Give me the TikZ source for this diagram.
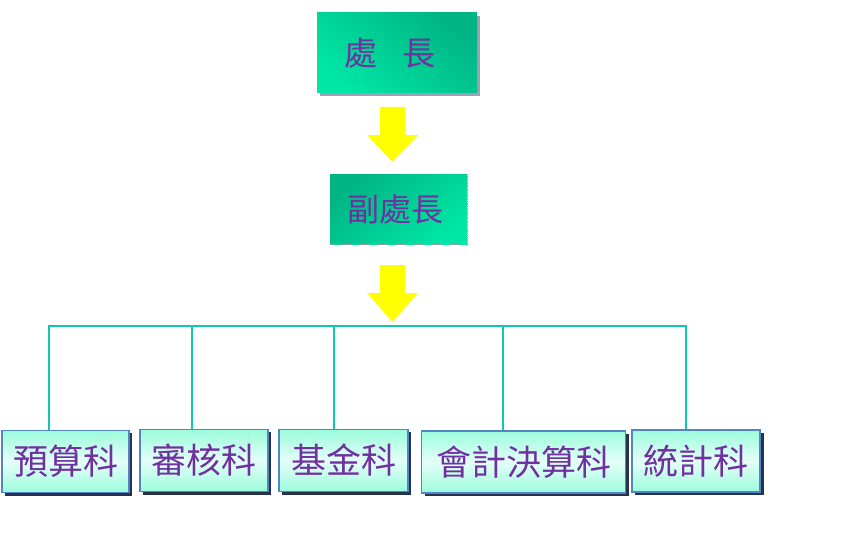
\documentclass[tikz,border=0pt]{standalone}
\usepackage{fontspec}
\newfontfamily\cjk{Noto Sans CJK TC}
\usetikzlibrary{shadings}
\definecolor{txtpurple}{HTML}{7030A0}
\definecolor{darkgreen}{HTML}{00B484}
\definecolor{lightgreen}{HTML}{00E6A4}
\definecolor{mintA}{HTML}{9CFCDC}
\definecolor{mintB}{HTML}{E4FFF8}
\definecolor{boxblue}{HTML}{5584C4}
\definecolor{shadownavy}{HTML}{243450}
\definecolor{shadowgray}{HTML}{98A4B4}
\definecolor{busteal}{HTML}{10C8B0}
\definecolor{arrowyellow}{HTML}{FFFF00}
\tikzset{
  topbox/.style={draw=none, top color=darkgreen, bottom color=lightgreen, shading angle=-40,
    minimum width=160pt, minimum height=80pt, inner sep=0pt, text=txtpurple, font=\cjk\fontsize{33}{33}\selectfont},
  midbox/.style={draw=none, top color=darkgreen, bottom color=lightgreen, shading angle=40,
    minimum width=137pt, minimum height=70pt, inner sep=0pt, text=txtpurple, font=\cjk\fontsize{32}{32}\selectfont},
  unitbox/.style={draw=boxblue, line width=1.2pt, top color=mintA, bottom color=mintA, middle color=mintB,
    minimum height=62pt, inner sep=0pt, text=txtpurple, font=\cjk\fontsize{35}{35}\selectfont},
  bus/.style={draw=busteal, line width=2pt},
  bigarrow/.style={fill=arrowyellow, draw=none}
}
\begin{document}
\begin{tikzpicture}[x=1pt,y=-1pt]
\useasboundingbox (0,0) rectangle (866,532);
% shadows
\fill[shadowgray] (320,16) rectangle (480,96);
\fill[shadownavy] (5,433) rectangle (132,496);
\fill[shadownavy] (143,432) rectangle (271,495);
\fill[shadownavy] (282,432) rectangle (411,495);
\fill[shadownavy] (425,434) rectangle (629,496);
\fill[shadownavy] (635,433) rectangle (764,495);
% top
\node[topbox] (chief) at (397,53) {處\kern26pt長\kern14pt};
\node[midbox] (deputy) at (398.5,209) {副處長\kern7pt};
\draw[shadowgray, densely dotted, line width=0.8pt] (deputy.south west) -- (deputy.south east) -- (deputy.north east);
% arrows
\fill[bigarrow] (380,107) -- (405,107) -- (405,135) -- (418,135) -- (392.5,162) -- (367,135) -- (380,135) -- cycle;
\fill[bigarrow] (380,265) -- (405,265) -- (405,293) -- (418,293) -- (392.5,322) -- (367,293) -- (380,293) -- cycle;
% units
\node[unitbox, minimum width=127pt] (u1) at (65.5,461.5) {預算科};
\node[unitbox, minimum width=128pt] (u2) at (204,460.5) {審核科};
\node[unitbox, minimum width=129pt] (u3) at (343.5,460.5) {基金科};
\node[unitbox, minimum width=204pt] (u4) at (523.5,462) {會計決算科};
\node[unitbox, minimum width=128pt] (u5) at (696,461) {統計科};
% bus
\coordinate (busL) at (48,326);
\coordinate (busR) at (687,326);
\coordinate (t1) at (49,326);
\coordinate (t2) at (192,326);
\coordinate (t3) at (334,326);
\coordinate (t4) at (503,326);
\coordinate (t5) at (686,326);
\draw[bus] (busL) -- (busR);
\draw[bus] (t1) -- (t1 |- u1.north);
\draw[bus] (t2) -- (t2 |- u2.north);
\draw[bus] (t3) -- (t3 |- u3.north);
\draw[bus] (t4) -- (t4 |- u4.north);
\draw[bus] (t5) -- (t5 |- u5.north);
\end{tikzpicture}
\end{document}
